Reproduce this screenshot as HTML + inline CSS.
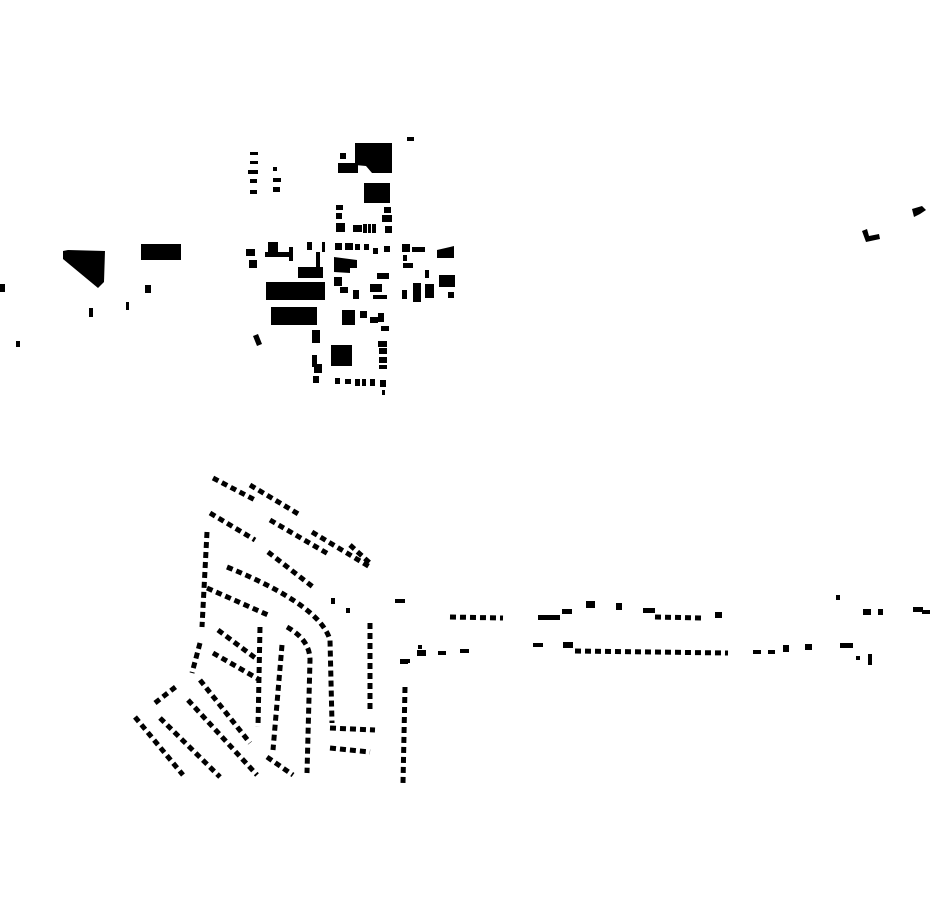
<!DOCTYPE html>
<html><head><meta charset="utf-8"><style>html,body{margin:0;padding:0;background:#fff}svg{display:block}</style></head>
<body>
<svg width="930" height="924" viewBox="0 0 930 924" xmlns="http://www.w3.org/2000/svg">
<rect width="930" height="924" fill="#fff"/>
<g fill="#000">
<!-- west -->
<polygon points="63,251 68,250 105,251 104,282 98,288 63,259"/>
<rect x="141" y="244" width="40" height="16"/>
<rect x="0" y="284" width="5" height="8"/>
<rect x="16" y="341" width="4" height="6"/>
<rect x="89" y="308" width="4" height="9"/>
<rect x="126" y="302" width="3" height="8"/>
<rect x="145" y="285" width="6" height="8"/>
<!-- north-east -->
<polygon points="862,231 867,229 869,236 879,234 880,239 866,242"/>
<polygon points="912,209 922,206 926,210 920,214 914,217"/>
<!-- town center -->
<rect x="250" y="152" width="8" height="3"/><rect x="250" y="161" width="8" height="3"/>
<rect x="248" y="170" width="10" height="4"/><rect x="250" y="179" width="7" height="4"/>
<rect x="250" y="190" width="7" height="4"/>
<rect x="273" y="167" width="4" height="4"/><rect x="273" y="178" width="8" height="4"/><rect x="273" y="187" width="7" height="5"/>
<polygon points="355,143 392,143 392,173 372,173 366,166 355,165"/>
<rect x="340" y="153" width="6" height="6"/>
<rect x="338" y="163" width="20" height="10"/>
<rect x="407" y="137" width="7" height="4"/>
<rect x="364" y="183" width="26" height="20"/>
<rect x="336" y="205" width="7" height="5"/><rect x="336" y="213" width="6" height="6"/>
<rect x="336" y="223" width="9" height="9"/><rect x="353" y="225" width="9" height="7"/>
<rect x="363" y="224" width="4" height="9"/><rect x="368" y="224" width="3" height="9"/><rect x="372" y="224" width="4" height="9"/>
<rect x="384" y="207" width="7" height="6"/><rect x="382" y="215" width="10" height="7"/><rect x="385" y="226" width="7" height="7"/>
<rect x="335" y="243" width="7" height="7"/><rect x="345" y="243" width="8" height="7"/>
<rect x="355" y="244" width="5" height="6"/><rect x="364" y="244" width="5" height="6"/>
<rect x="373" y="248" width="5" height="6"/><rect x="384" y="246" width="6" height="6"/>
<rect x="246" y="249" width="9" height="7"/><rect x="249" y="260" width="8" height="8"/>
<rect x="268" y="242" width="10" height="15"/><rect x="265" y="252" width="25" height="5"/>
<rect x="289" y="247" width="4" height="14"/>
<rect x="307" y="242" width="5" height="8"/><rect x="322" y="242" width="3" height="10"/>
<rect x="316" y="252" width="4" height="15"/>
<rect x="298" y="267" width="25" height="11"/>
<rect x="266" y="282" width="59" height="18"/>
<rect x="271" y="307" width="46" height="18"/>
<polygon points="253,336 258,334 262,344 257,346"/>
<rect x="312" y="330" width="8" height="13"/>
<rect x="312" y="355" width="5" height="12"/><rect x="314" y="364" width="8" height="9"/>
<rect x="313" y="376" width="6" height="7"/>
<rect x="331" y="345" width="21" height="21"/>
<rect x="378" y="341" width="9" height="6"/><rect x="379" y="348" width="8" height="6"/>
<rect x="379" y="357" width="8" height="6"/><rect x="379" y="365" width="8" height="4"/>
<rect x="335" y="378" width="5" height="6"/><rect x="345" y="379" width="6" height="5"/>
<rect x="355" y="379" width="5" height="7"/><rect x="362" y="379" width="4" height="7"/>
<rect x="370" y="379" width="5" height="7"/><rect x="380" y="380" width="6" height="7"/>
<rect x="382" y="390" width="3" height="5"/>
<polygon points="334,257 357,260 357,268 350,268 350,273 334,272"/>
<rect x="334" y="277" width="8" height="9"/><rect x="340" y="287" width="8" height="6"/>
<rect x="353" y="290" width="6" height="9"/>
<rect x="342" y="310" width="13" height="15"/><rect x="360" y="311" width="7" height="7"/>
<rect x="370" y="317" width="8" height="6"/><rect x="378" y="313" width="6" height="9"/>
<rect x="381" y="326" width="8" height="5"/>
<rect x="370" y="284" width="12" height="8"/><rect x="377" y="273" width="12" height="6"/>
<rect x="373" y="295" width="14" height="4"/>
<rect x="402" y="244" width="8" height="8"/><rect x="412" y="247" width="13" height="5"/>
<rect x="403" y="255" width="4" height="6"/><rect x="403" y="263" width="10" height="5"/>
<polygon points="437,250 450,247 454,246 454,258 437,258"/>
<rect x="425" y="270" width="4" height="8"/>
<rect x="439" y="275" width="16" height="12"/>
<rect x="402" y="290" width="5" height="9"/>
<rect x="413" y="283" width="8" height="19"/><rect x="425" y="284" width="9" height="14"/>
<rect x="448" y="292" width="6" height="6"/>
<!-- east strip -->
<rect x="538" y="615" width="22" height="5"/><rect x="562" y="609" width="10" height="5"/>
<rect x="586" y="601" width="9" height="7"/><rect x="616" y="603" width="6" height="7"/>
<rect x="643" y="608" width="12" height="5"/><rect x="715" y="612" width="7" height="6"/>
<rect x="836" y="595" width="4" height="5"/><rect x="863" y="609" width="8" height="6"/>
<rect x="878" y="609" width="5" height="6"/><rect x="913" y="607" width="10" height="5"/><rect x="922" y="610" width="8" height="4"/>
<rect x="400" y="659" width="10" height="4"/><rect x="417" y="650" width="9" height="6"/>
<rect x="438" y="651" width="8" height="4"/><rect x="460" y="649" width="9" height="4"/>
<rect x="533" y="643" width="10" height="4"/><rect x="563" y="642" width="10" height="6"/>
<rect x="753" y="650" width="8" height="4"/><rect x="768" y="650" width="7" height="4"/>
<rect x="783" y="645" width="6" height="7"/><rect x="805" y="644" width="7" height="6"/>
<rect x="840" y="643" width="13" height="5"/><rect x="856" y="656" width="4" height="4"/><rect x="868" y="654" width="4" height="11"/>
</g>
<g fill="none" stroke="#000" stroke-width="5" stroke-dasharray="6 4">
<path d="M450 617 L503 618"/>
<path d="M655 617 L702 618"/>
<path d="M575 651 L728 653"/>
<!-- subdivision -->
<path d="M213 478 L255 500"/>
<path d="M210 513 L255 540"/>
<path d="M268 552 L313 587"/>
<path d="M312 532 L370 567"/>
<path d="M207 532 L202 627"/>
<path d="M227 567 Q320 605 330 640 L332 723"/>
<path d="M207 588 L268 615"/>
<path d="M218 630 L258 660"/>
<path d="M287 627 Q310 640 310 660 L307 773"/>
<path d="M282 645 L273 750"/>
<path d="M267 757 L293 775"/>
<path d="M260 627 L258 727"/>
<path d="M200 643 L192 673"/>
<path d="M200 680 L250 743"/>
<path d="M188 700 L257 775"/>
<path d="M160 718 L220 777"/>
<path d="M135 717 L183 775"/>
<path d="M155 703 L178 685"/>
<path d="M213 653 L260 680"/>
<path d="M370 623 L370 710"/>
<path d="M405 687 L403 783"/>
<path d="M330 728 L375 730"/>
<path d="M330 748 L370 752"/>
<path d="M250 485 L300 515"/>
<path d="M270 520 L330 555"/>
<path d="M350 545 L372 565"/>
</g>
<g fill="#000">
<rect x="395" y="599" width="10" height="4"/><rect x="346" y="608" width="4" height="5"/>
<rect x="400" y="660" width="8" height="4"/><rect x="418" y="645" width="4" height="4"/>
<rect x="331" y="598" width="4" height="6"/>
</g>
</svg>
</body></html>
